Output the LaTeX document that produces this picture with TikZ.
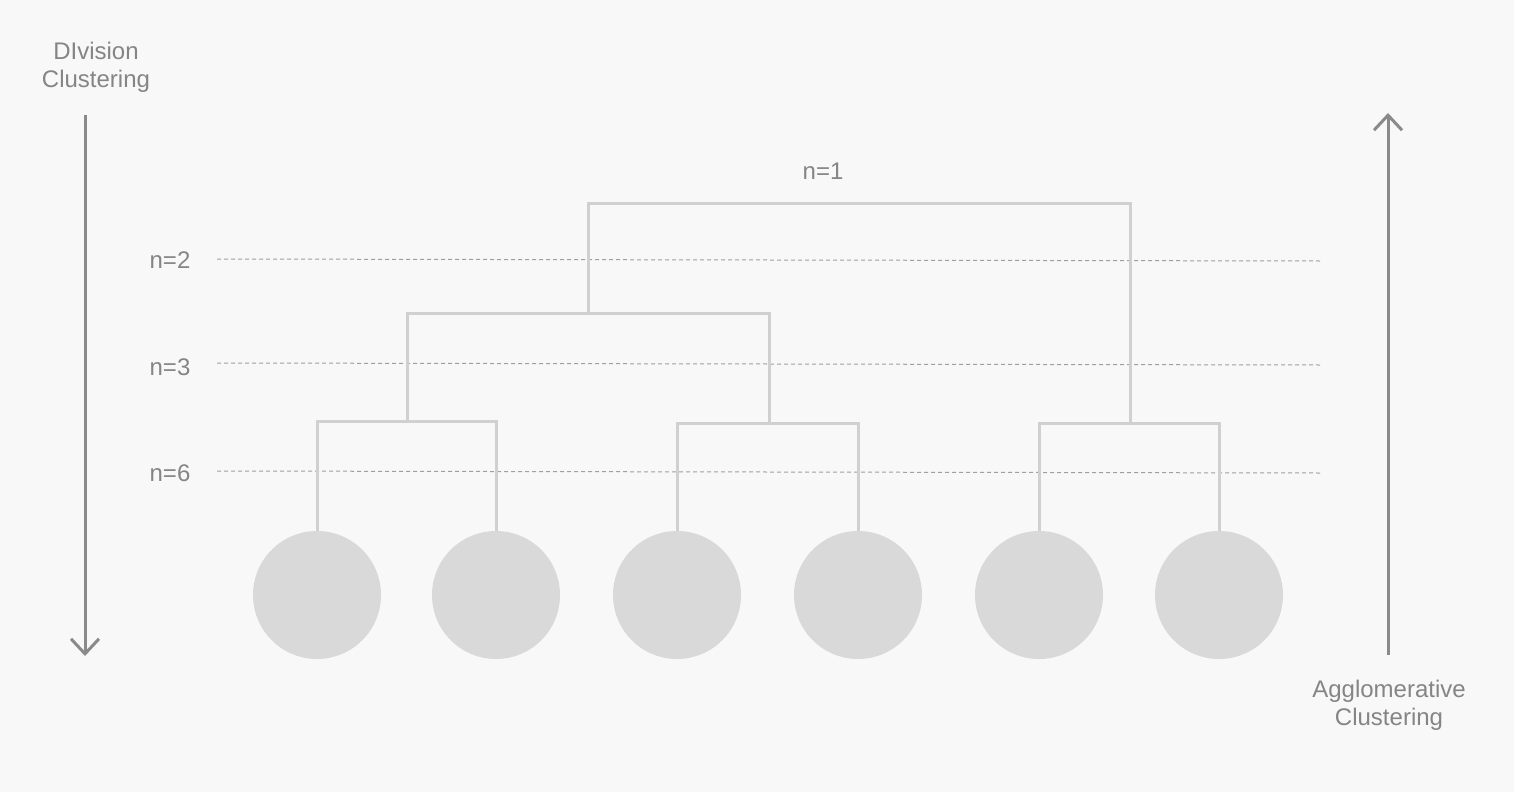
\documentclass[tikz,border=0pt]{standalone}
\usepackage{fontspec}
\setmainfont{Liberation Sans}
\usepackage{tikz}
\usetikzlibrary{arrows.meta,positioning}
\definecolor{bgcol}{HTML}{F8F8F8}
\definecolor{leafcol}{HTML}{D9D9D9}
\definecolor{treecol}{HTML}{D0D0D0}
\definecolor{textcol}{HTML}{858585}
\definecolor{arrowcol}{HTML}{8A8A8A}
\definecolor{dashcol}{HTML}{A0A0A0}

\begin{document}
\begin{tikzpicture}[x=0.5pt, y=-0.5pt, font=\fontsize{12}{14}\selectfont, text=textcol,
    leaf/.style={circle, fill=leafcol, minimum size=64pt, inner sep=0pt},
    tree/.style={draw=treecol, line width=1.5pt},
    level line/.style={draw=dashcol, line width=0.5pt, dash pattern=on 2pt off 1.5pt},
    level label/.style={anchor=center},
    big arrow/.style={draw=arrowcol, line width=1.5pt, -{Straight Barb[length=7.5pt, width=14pt, line width=1.5pt]}},
    side label/.style={align=center}]
    \fill[bgcol] (0,0) rectangle (1514,792);
    \useasboundingbox (0,0) rectangle (1514,792);

    % leaves
    \node[leaf] (c1) at (317,595) {};
    \node[leaf] (c2) at (496,595) {};
    \node[leaf] (c3) at (677,595) {};
    \node[leaf] (c4) at (858,595) {};
    \node[leaf] (c5) at (1039,595) {};
    \node[leaf] (c6) at (1219,595) {};

    % merge points
    \coordinate (m12) at (407,421);
    \coordinate (m34) at (769,423);
    \coordinate (m56) at (1130,423);
    \coordinate (m1234) at (588,313);
    \coordinate (mall) at (860,203);

    % cut levels
    \coordinate (l2a) at (217,259); \coordinate (l2b) at (1320,261);
    \coordinate (l3a) at (217,363); \coordinate (l3b) at (1320,365);
    \coordinate (l6a) at (217,471); \coordinate (l6b) at (1320,473);
    \draw[level line] (l2a) -- (l2b);
    \draw[level line] (l3a) -- (l3b);
    \draw[level line] (l6a) -- (l6b);
    \node[level label] (n2) at (170,260) {n=2};
    \node[level label] (n3) at (170,367) {n=3};
    \node[level label] (n6) at (170,473) {n=6};
    \node[level label] (n1) at (823,171) {n=1};

    % dendrogram
    \draw[tree] (c1.north) |- (m12) -| (c2.north);
    \draw[tree] (c3.north) |- (m34) -| (c4.north);
    \draw[tree] (c5.north) |- (m56) -| (c6.north);
    \draw[tree] (m12) |- (m1234) -| (m34);
    \draw[tree] (m1234) |- (mall) -| (m56);

    % direction arrows
    \node[side label] (div) at (96,67) {DIvision\\Clustering};
    \node[side label] (agg) at (1389,705) {Agglomerative\\Clustering};
    \coordinate (d1) at (85,115); \coordinate (d2) at (85,656);
    \coordinate (a1) at (1388,655); \coordinate (a2) at (1388,113);
    \draw[big arrow] (d1) -- (d2);
    \draw[big arrow] (a1) -- (a2);
\end{tikzpicture}
\end{document}
